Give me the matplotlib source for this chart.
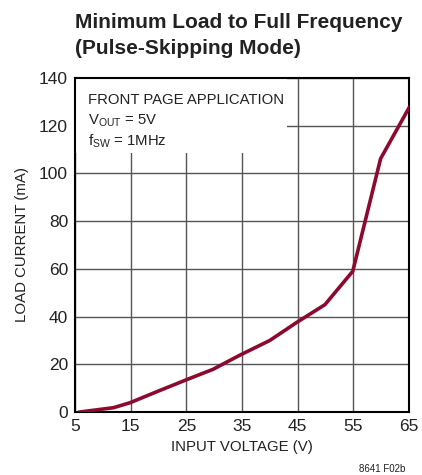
import matplotlib
matplotlib.use("Agg")
import matplotlib.pyplot as plt
from matplotlib.patches import Rectangle

# Minimum load current vs input voltage (pulse-skipping mode)
vin = [5.9, 11.9, 14.9, 20.0, 25.0, 29.8, 34.6, 40.0, 44.8, 49.9, 54.9, 59.9, 65.0]
iload = [0.0, 1.8, 3.9, 8.8, 13.5, 17.9, 23.8, 30.0, 37.5, 45.0, 59.0, 106.2, 127.5]

xticks = [5, 15, 25, 35, 45, 55, 65]
yticks = [0, 20, 40, 60, 80, 100, 120, 140]

plt.rcParams['font.family'] = ['Liberation Sans Narrow', 'Liberation Sans', 'DejaVu Sans']

fig = plt.figure(figsize=(4.22, 4.75), dpi=100)
W, H = 422, 475
left, right, top, bottom = 75, 409, 78, 412
ax = fig.add_axes([left / W, 1 - bottom / H, (right - left) / W, (bottom - top) / H])

ax.set_xlim(5, 65)
ax.set_ylim(0, 140)
ax.set_xticks(xticks)
ax.set_yticks(yticks)
ax.grid(True, color='#555555', linewidth=1.0)
ax.set_axisbelow(True)
for s in ax.spines.values():
    s.set_linewidth(1.5)
    s.set_color('black')
ax.tick_params(length=0, labelsize=12.5, pad=5, colors='#222222')

# white panel behind the annotation block
ax.add_patch(Rectangle((5, 140 - (153 - 78) / 334 * 140), (287 - 75) / 334 * 60,
                       (153 - 78) / 334 * 140, facecolor='white', edgecolor='none',
                       zorder=1.5))

ax.plot(vin, iload, color='#8c0a2e', linewidth=2.6, solid_joinstyle='round', zorder=3)

ax.set_xlabel('INPUT VOLTAGE (V)', fontsize=10.8, color='#222222', labelpad=4)
ax.set_ylabel('LOAD CURRENT (mA)', fontsize=10.8, color='#222222', labelpad=7)

tx = 7.3
ax.text(tx, 130.8, 'FRONT PAGE APPLICATION', fontsize=10.7, color='#222222', va='center', zorder=4)
ax.text(tx, 122.0, r'V$_{\mathregular{OUT}}$ = 5V', fontsize=10.7, color='#222222', va='center', zorder=4)
ax.text(tx, 113.6, r'f$_{\mathregular{SW}}$ = 1MHz', fontsize=10.7, color='#222222', va='center', zorder=4)

fig.text(75 / W, 1 - 23 / H, 'Minimum Load to Full Frequency', fontsize=15,
         fontweight='bold', color='#222222', va='center', ha='left')
fig.text(75 / W, 1 - 48 / H, '(Pulse-Skipping Mode)', fontsize=15,
         fontweight='bold', color='#222222', va='center', ha='left')
fig.text(405 / W, 1 - 469 / H, '8641 F02b', fontsize=7, color='#222222',
         va='center', ha='right')

fig.savefig('out.png', dpi=100)
